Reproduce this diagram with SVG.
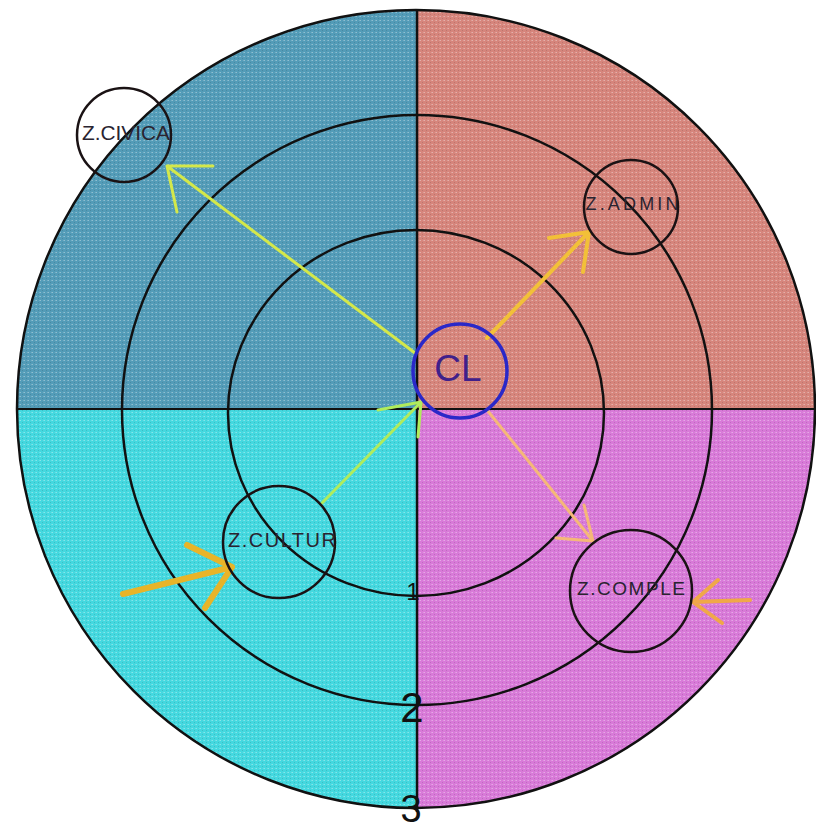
<svg xmlns="http://www.w3.org/2000/svg" width="816" height="831" viewBox="0 0 816 831">
<defs>
<pattern id="tex" width="4" height="4" patternUnits="userSpaceOnUse">
<rect x="0" y="0" width="1" height="1" fill="#fff" fill-opacity="0.35"/>
<rect x="2" y="2" width="1" height="1" fill="#000" fill-opacity="0.12"/>
<rect x="3" y="0" width="1" height="1" fill="#fff" fill-opacity="0.2"/>
</pattern>
</defs>
<style>
.ring{fill:none;stroke:#111;stroke-width:2.5}
.node{fill:none;stroke:#1a1214;stroke-width:2.5}
.lbl{font-family:"Liberation Sans",Arial,sans-serif;fill:#2a2430;text-anchor:middle}
.num{font-family:"Liberation Sans",Arial,sans-serif;fill:#111;text-anchor:middle}
.conn{fill:none;stroke-linecap:round;stroke-linejoin:round}
</style>
<rect width="816" height="831" fill="#fff"/>
<g id="quadrants">
<path d="M416,409 L17,409 A399,399 0 0 1 416,10 Z" fill="#539cb8"/>
<path d="M416,409 L416,10 A399,399 0 0 1 815,409 Z" fill="#d6857c"/>
<path d="M416,409 L815,409 A399,399 0 0 1 416,808 Z" fill="#d87ad8"/>
<path d="M416,409 L416,808 A399,399 0 0 1 17,409 Z" fill="#44d8df"/>
<circle cx="416" cy="409" r="399" fill="url(#tex)"/>
</g>
<g id="rings">
<circle class="ring" cx="416" cy="409" r="399"/>
<circle class="ring" cx="417" cy="410" r="295"/>
<ellipse class="ring" cx="416" cy="413" rx="188" ry="183"/>
<line x1="417" y1="10" x2="417" y2="812" stroke="#111" stroke-width="2.5"/>
<line x1="16" y1="409" x2="815" y2="409" stroke="#111" stroke-width="2"/>
</g>
<g id="scale">
<text class="num" x="413" y="600" font-size="24">1</text>
<text class="num" x="412" y="722" font-size="42">2</text>
<text class="num" x="411" y="822" font-size="38">3</text>
</g>
<g id="connectors">
<path class="conn" stroke="#d4e84a" stroke-width="3" d="M415,353 L167,166 M213,166 L167,166 L177,212"/>
<path class="conn" stroke="#f2c038" stroke-width="4" d="M487,338 L589,232 M549,238 L589,232 L583,272"/>
<path class="conn" stroke="#f5b878" stroke-width="3" d="M487,410 L593,541 M556,538 L593,541 L584,505"/>
<path class="conn" stroke="#b0ec5c" stroke-width="3" d="M322,503 L421,402 M378,410 L421,402 L418,437"/>
<path class="conn" stroke="#e8b428" stroke-width="6" d="M123,594 L232,567 M187,545 L232,567 L205,608"/>
<path class="conn" stroke="#f0a848" stroke-width="4" d="M750,600 L693,602 M718,580 L693,602 L722,623"/>
</g>
<g id="CL">
<circle cx="460" cy="371" r="47" fill="none" stroke="#2a28c8" stroke-width="3.5"/>
<text class="lbl" x="458" y="381" font-size="37" style="fill:#40208a">CL</text>
</g>
<g id="Z_CIVICA">
<circle class="node" cx="124" cy="135" r="47"/>
<text class="lbl" x="126" y="140" font-size="20" textLength="88" lengthAdjust="spacingAndGlyphs">Z.CIVICA</text>
</g>
<g id="Z_ADMIN">
<circle class="node" cx="631" cy="207" r="47"/>
<text class="lbl" x="632" y="210" font-size="18" textLength="93" lengthAdjust="spacing">Z.ADMIN</text>
</g>
<g id="Z_CULTUR">
<circle class="node" cx="279" cy="542" r="56"/>
<text class="lbl" x="282" y="547" font-size="20" textLength="108" lengthAdjust="spacing">Z.CULTUR</text>
</g>
<g id="Z_COMPLE">
<circle class="node" cx="631" cy="591" r="61"/>
<text class="lbl" x="631" y="595" font-size="19" textLength="108" lengthAdjust="spacing">Z.COMPLE</text>
</g>
</svg>
